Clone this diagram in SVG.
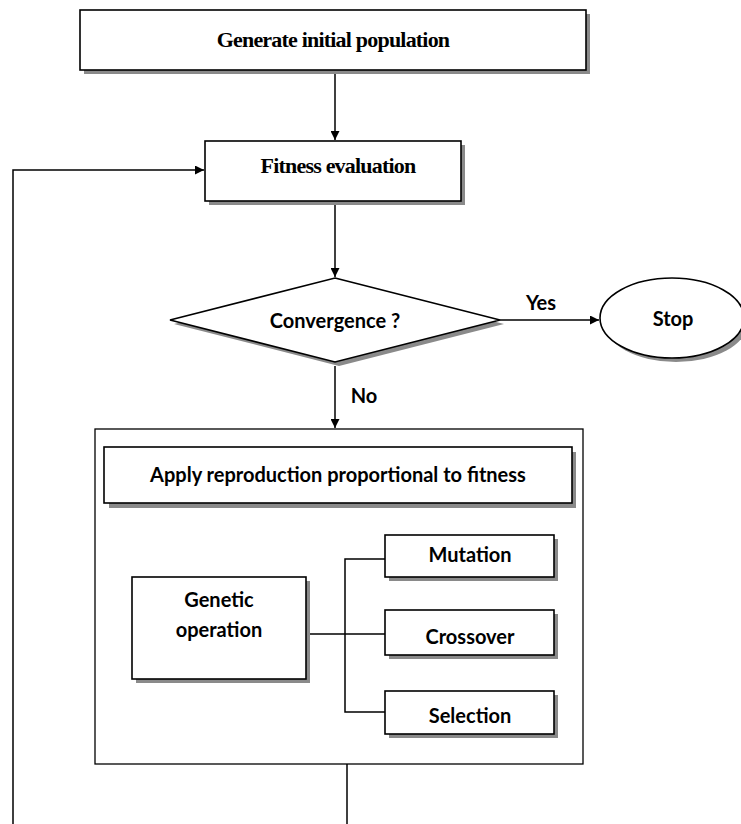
<svg xmlns="http://www.w3.org/2000/svg" width="741" height="824" viewBox="0 0 741 824">
  <style>
    .box { fill: #fff; stroke: #000; stroke-width: 1.6; }
    .shadow { fill: #8a8a8a; stroke: none; }
    .plain { fill: #fff; stroke: #000; stroke-width: 1.3; }
    .serif { font-family: "Liberation Serif", "Times New Roman", serif; font-weight: bold; font-size: 22px; letter-spacing: -0.8px; fill: #000; text-anchor: middle; }
    .sans { font-family: Lato, "Liberation Sans", sans-serif; font-weight: bold; font-size: 20px; fill: #000; text-anchor: middle; }
    .wire { fill: none; stroke: #000; stroke-width: 1.5; }
  </style>
  <defs>
    <marker id="arrow" viewBox="0 0 10 10" refX="10" refY="5" markerWidth="9" markerHeight="9" markerUnits="userSpaceOnUse" orient="auto">
      <path d="M0,0 L10,5 L0,10 Z" fill="#000"/>
    </marker>
  </defs>
  <rect width="741" height="824" fill="#fff"/>

  <g id="generate">
    <rect class="shadow" x="84" y="14" width="506" height="60"/>
    <rect class="box" x="80" y="10" width="506" height="60"/>
    <text class="serif" x="333" y="47">Generate initial population</text>
  </g>

  <g id="fitness">
    <rect class="shadow" x="209" y="145" width="256" height="60"/>
    <rect class="box" x="205" y="141" width="256" height="60"/>
    <text class="serif" x="338" y="173">Fitness evaluation</text>
  </g>

  <g id="convergence">
    <path class="shadow" d="M339,282 L504,324 L339,366 L174,324 Z"/>
    <path class="box" d="M335,278 L500,320 L335,362 L170,320 Z"/>
    <text class="sans" x="335" y="328">Convergence ?</text>
  </g>

  <g id="stop">
    <ellipse class="shadow" cx="676" cy="322" rx="72" ry="40"/>
    <ellipse class="box" cx="672" cy="318" rx="72" ry="40"/>
    <text class="sans" x="673" y="326">Stop</text>
  </g>

  <g id="reproduction-block">
    <rect class="plain" x="95" y="429" width="488" height="335"/>
  </g>

  <g id="apply">
    <rect class="shadow" x="109" y="452" width="467" height="56"/>
    <rect class="box" x="104" y="447" width="468" height="56"/>
    <text class="sans" x="338" y="482">Apply reproduction proportional to fitness</text>
  </g>

  <g id="genetic">
    <rect class="shadow" x="136" y="581" width="174" height="102"/>
    <rect class="box" x="132" y="577" width="174" height="102"/>
    <text class="sans" x="219" y="607">Genetic</text>
    <text class="sans" x="219" y="637">operation</text>
  </g>

  <g id="mutation">
    <rect class="shadow" x="389" y="539" width="169" height="42"/>
    <rect class="box" x="385" y="535" width="169" height="42"/>
    <text class="sans" x="470" y="562">Mutation</text>
  </g>

  <g id="crossover">
    <rect class="shadow" x="389" y="614" width="169" height="45"/>
    <rect class="box" x="385" y="610" width="169" height="45"/>
    <text class="sans" x="470" y="644">Crossover</text>
  </g>

  <g id="selection">
    <rect class="shadow" x="389" y="695" width="169" height="43"/>
    <rect class="box" x="385" y="691" width="169" height="43"/>
    <text class="sans" x="470" y="723">Selection</text>
  </g>

  <g id="connectors">
    <path class="wire" d="M335,74 V140" marker-end="url(#arrow)"/>
    <path class="wire" d="M335,205 V277" marker-end="url(#arrow)"/>
    <path class="wire" d="M500,320 H599" marker-end="url(#arrow)"/>
    <path class="wire" d="M335,366 V428" marker-end="url(#arrow)"/>
    <path class="wire" d="M13,824 V170 H204" marker-end="url(#arrow)"/>
    <path class="wire" d="M347,764 V824"/>
    <path class="wire" d="M310,634 H385"/>
    <path class="wire" d="M385,559 H345 V712 H385"/>
    <text class="sans" x="541" y="310">Yes</text>
    <text class="sans" x="364" y="403">No</text>
  </g>
</svg>
